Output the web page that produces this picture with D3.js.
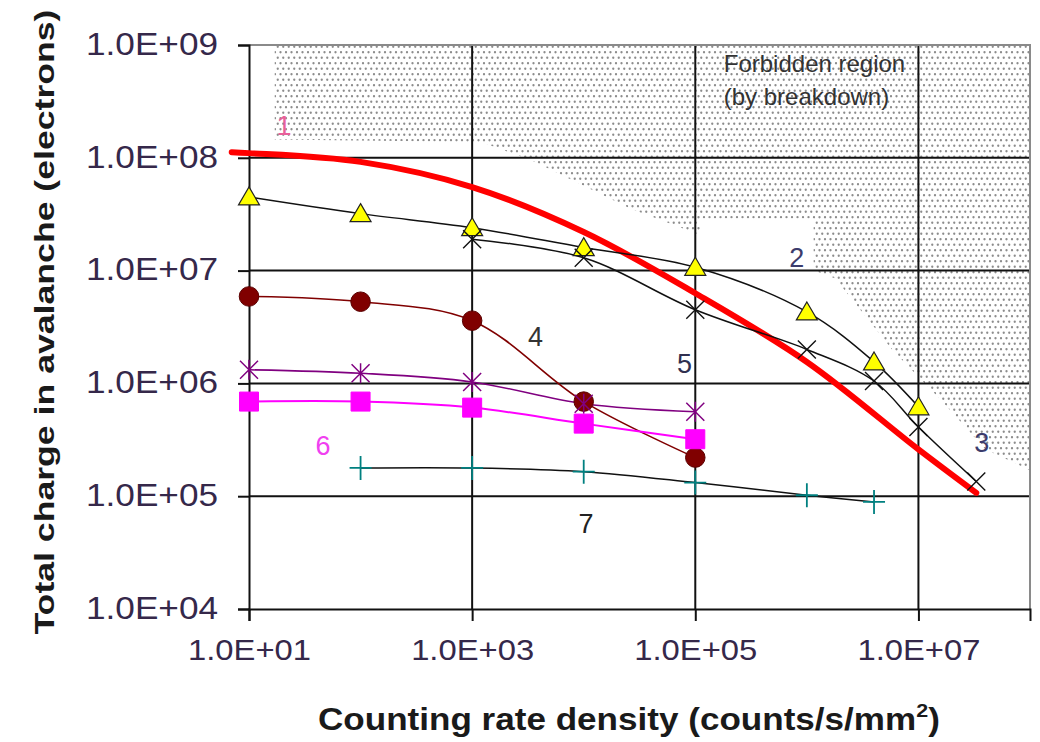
<!DOCTYPE html>
<meta charset="utf-8">
<style>
body { margin: 0; background: #fff; }
svg text { font-family: "Liberation Sans", Arial, sans-serif; }
</style>
<body>
<div id="chart"></div>
<script src="https://d3js.org/d3.v7.min.js"></script>
<script>

// tick values
var xTicks = [1e1, 1e3, 1e5, 1e7];
var yTicks = [1e4, 1e5, 1e6, 1e7, 1e8, 1e9];

// series values, [rate, charge]
var s1 = [[7, 1.12e8], [10, 1.1e8], [100, 9.2e7], [1e3, 5.5e7], [1e4, 2.2e7], [1e5, 6.3e6], [1e6, 1.55e6], [1e7, 2.6e5], [3.3e7, 1.07e5]];
var s2 = [[10, 4.5e7], [100, 3.2e7], [1e3, 2.4e7], [1e4, 1.6e7], [1e5, 1.07e7], [1e6, 4.3e6], [4e6, 1.55e6], [1e7, 6.2e5]];
var s3 = [[1e3, 1.9e7], [1e4, 1.3e7], [1e5, 4.5e6], [1e6, 2.0e6], [4e6, 1.05e6], [1e7, 4.1e5], [3.3e7, 1.35e5]];
var s4 = [[10, 5.9e6], [100, 5.3e6], [1e3, 3.6e6], [1e4, 6.9e5], [1e5, 2.2e5]];
var s5 = [[10, 1.32e6], [100, 1.23e6], [1e3, 1.03e6], [1e4, 6.6e5], [1e5, 5.6e5]];
var s6 = [[10, 6.9e5], [100, 6.9e5], [1e3, 6.1e5], [1e4, 4.4e5], [1e5, 3.2e5]];
var s7 = [[100, 1.78e5], [1e3, 1.78e5], [1e4, 1.65e5], [1e5, 1.32e5], [1e6, 1.02e5], [4e6, 8.9e4]];

// edge of the forbidden (breakdown) region
var forbiddenEdge = [[17, 1e9], [17, 1.45e8], [1.2e3, 1.38e8], [3.4e3, 9.5e7], [2.7e4, 3.5e7], [1.07e5, 2.1e7],
    [4.9e5, 1.38e7], [1.8e6, 8.5e6], [5.8e6, 2.0e6], [1.6e7, 7.1e5], [4e7, 2.6e5], [1e8, 1.7e5], [1e8, 1e9]];

var curveLabels = ["1", "2", "3", "4", "5", "6", "7"];
var curveLabelAt = [[20.6, 1.95e8], [8.1e5, 1.32e7], [3.7e7, 3.0e5], [3.7e3, 2.6e6], [8.0e4, 1.5e6], [46, 2.8e5], [1.05e4, 5.8e4]];

var width = 1040, height = 742;

var svg = d3.select("#chart").append("svg")
    .attr("width", width)
    .attr("height", height);

svg.append("rect").attr("width", width).attr("height", height).attr("fill", "#fff");

var x = d3.scaleLog().domain([10, 1e8]).range([249, 1030]);
var y = d3.scaleLog().domain([1e4, 1e9]).range([609, 45]);

var defs = svg.append("defs");
var pat = defs.append("pattern")
    .attr("id", "dots")
    .attr("patternUnits", "userSpaceOnUse")
    .attr("width", 11).attr("height", 11);
[[2.75, 2.75], [8.25, 2.75], [0, 8.25], [5.5, 8.25], [11, 8.25]].forEach(function(p){
    pat.append("circle").attr("cx", p[0]).attr("cy", p[1]).attr("r", 1.15).attr("fill", "#8c8c8c");
});

// forbidden region
svg.append("path")
    .datum(forbiddenEdge)
    .attr("d", d3.line().x(d => x(d[0])).y(d => y(d[1])))
    .attr("fill", "url(#dots)");

// white box behind label 2
svg.append("rect")
    .attr("x", x(1.1e5)).attr("y", y(2.9e7))
    .attr("width", x(1.15e6) - x(1.1e5))
    .attr("height", y(1.03e7) - y(2.9e7))
    .attr("fill", "#fff");

// gridlines
svg.append("g").selectAll("line")
    .data(yTicks.slice(1, -1))
    .enter().append("line")
    .attr("x1", x(10)).attr("x2", x(1e8))
    .attr("y1", d => y(d)).attr("y2", d => y(d))
    .attr("stroke", "#111").attr("stroke-width", 2);

svg.append("g").selectAll("line")
    .data(xTicks.slice(1))
    .enter().append("line")
    .attr("x1", d => x(d)).attr("x2", d => x(d))
    .attr("y1", y(1e9)).attr("y2", y(1e4))
    .attr("stroke", "#111").attr("stroke-width", 2);

// frame top and right
svg.append("path")
    .attr("d", "M" + x(10) + "," + y(1e9) + "H" + x(1e8) + "V" + y(1e4))
    .attr("fill", "none").attr("stroke", "#8a8a8a").attr("stroke-width", 2);

var expFmt = d => "1.0E+" + String(Math.round(Math.log10(d))).padStart(2, "0");

var yAxis = svg.append("g")
    .attr("transform", "translate(" + x(10) + ",0)")
    .call(d3.axisLeft(y).tickValues(yTicks).tickSize(11).tickPadding(20).tickFormat(expFmt));

var xAxis = svg.append("g")
    .attr("transform", "translate(0," + y(1e4) + ")")
    .call(d3.axisBottom(x).tickValues(xTicks).tickSize(12).tickPadding(17).tickFormat(expFmt));

[xAxis, yAxis].forEach(function(ax){
    ax.select(".domain").attr("stroke", "#111").attr("stroke-width", 2);
    ax.selectAll(".tick line").attr("stroke", "#111").attr("stroke-width", 2);
    ax.selectAll("text").attr("fill", "#35284a").style("font-family", "Liberation Sans, Arial, sans-serif");
});
yAxis.selectAll("text").attr("font-size", 31).attr("dy", "0.3em")
    .attr("textLength", 132).attr("lengthAdjust", "spacingAndGlyphs");
xAxis.selectAll("text").attr("font-size", 30).attr("dy", "0.72em")
    .attr("textLength", 123).attr("lengthAdjust", "spacingAndGlyphs");

// axis titles
svg.append("text")
    .attr("transform", "translate(54," + 322 + ") rotate(-90)")
    .attr("text-anchor", "middle")
    .attr("font-size", 27).attr("font-weight", "bold").attr("fill", "#1a1a1a")
    .attr("textLength", 625).attr("lengthAdjust", "spacingAndGlyphs")
    .text("Total charge in avalanche (electrons)");

var xt = svg.append("text")
    .attr("font-size", 31).attr("font-weight", "bold").attr("fill", "#1a1a1a");
xt.append("tspan").text("Counting rate density (counts/s/mm");
xt.append("tspan").attr("font-size", 19).attr("dy", -13).text("2");
xt.append("tspan").attr("dy", 13).text(")");
var xtw = xt.node().getBBox().width;
xt.attr("transform", "translate(318,730) scale(" + (622 / xtw) + ",1)");

// series lines
var line = d3.line().x(d => x(d[0])).y(d => y(d[1])).curve(d3.curveCatmullRom.alpha(0.5));

svg.append("path").datum(s1).attr("d", line)
    .attr("fill", "none").attr("stroke", "#ff0000").attr("stroke-width", 6).attr("stroke-linecap", "round");

var lineStyles = [
    {data: s2, color: "#111", w: 1.5},
    {data: s3, color: "#111", w: 1.5},
    {data: s4, color: "#800000", w: 1.6},
    {data: s5, color: "#800080", w: 1.6},
    {data: s6, color: "#ff00ff", w: 2},
    {data: s7, color: "#111", w: 1.5}
];
lineStyles.forEach(function(s){
    svg.append("path").datum(s.data).attr("d", line)
        .attr("fill", "none").attr("stroke", s.color).attr("stroke-width", s.w);
});

// markers
function markers(data, path, fill, stroke, sw){
    svg.append("g").selectAll("path")
        .data(data)
        .enter().append("path")
        .attr("transform", d => "translate(" + x(d[0]) + "," + y(d[1]) + ")")
        .attr("d", path)
        .attr("fill", fill)
        .attr("stroke", stroke)
        .attr("stroke-width", sw);
}
markers(s2, "M0,-10L10.5,8L-10.5,8Z", "#ffff00", "#222", 1.2);
markers(s3, "M-9,-9L9,9M-9,9L9,-9", "none", "#111", 1.4);
markers(s4, d3.symbol(d3.symbolCircle, 300)(), "#800000", "#5a0000", 1);
markers(s5, "M-9,-9L9,9M-9,9L9,-9M0,-10V10", "none", "#800080", 1.5);
markers(s6, "M-9.5,-9.5H9.5V9.5H-9.5Z", "#ff00ff", "#ff00ff", 1);
markers(s7, "M-11,0H11M0,-12V12", "none", "#008080", 1.8);

// curve labels
var labelColors = ["#e8609a", "#3c3c6c", "#3c3c6c", "#333", "#303050", "#f040f0", "#222"];
svg.append("g").selectAll("text")
    .data(curveLabels)
    .enter().append("text")
    .attr("x", (d, i) => x(curveLabelAt[i][0]))
    .attr("y", (d, i) => y(curveLabelAt[i][1]))
    .attr("dy", "0.36em")
    .attr("text-anchor", "middle")
    .attr("font-size", 27)
    .attr("fill", (d, i) => labelColors[i])
    .text(d => d);

svg.append("text")
    .attr("x", x(1.8e5)).attr("y", y(5.8e8))
    .attr("font-size", 24).attr("fill", "#333")
    .text("Forbidden region");
svg.append("text")
    .attr("x", x(1.8e5)).attr("y", y(2.93e8))
    .attr("font-size", 24).attr("fill", "#333")
    .text("(by breakdown)");

</script>
</body>
